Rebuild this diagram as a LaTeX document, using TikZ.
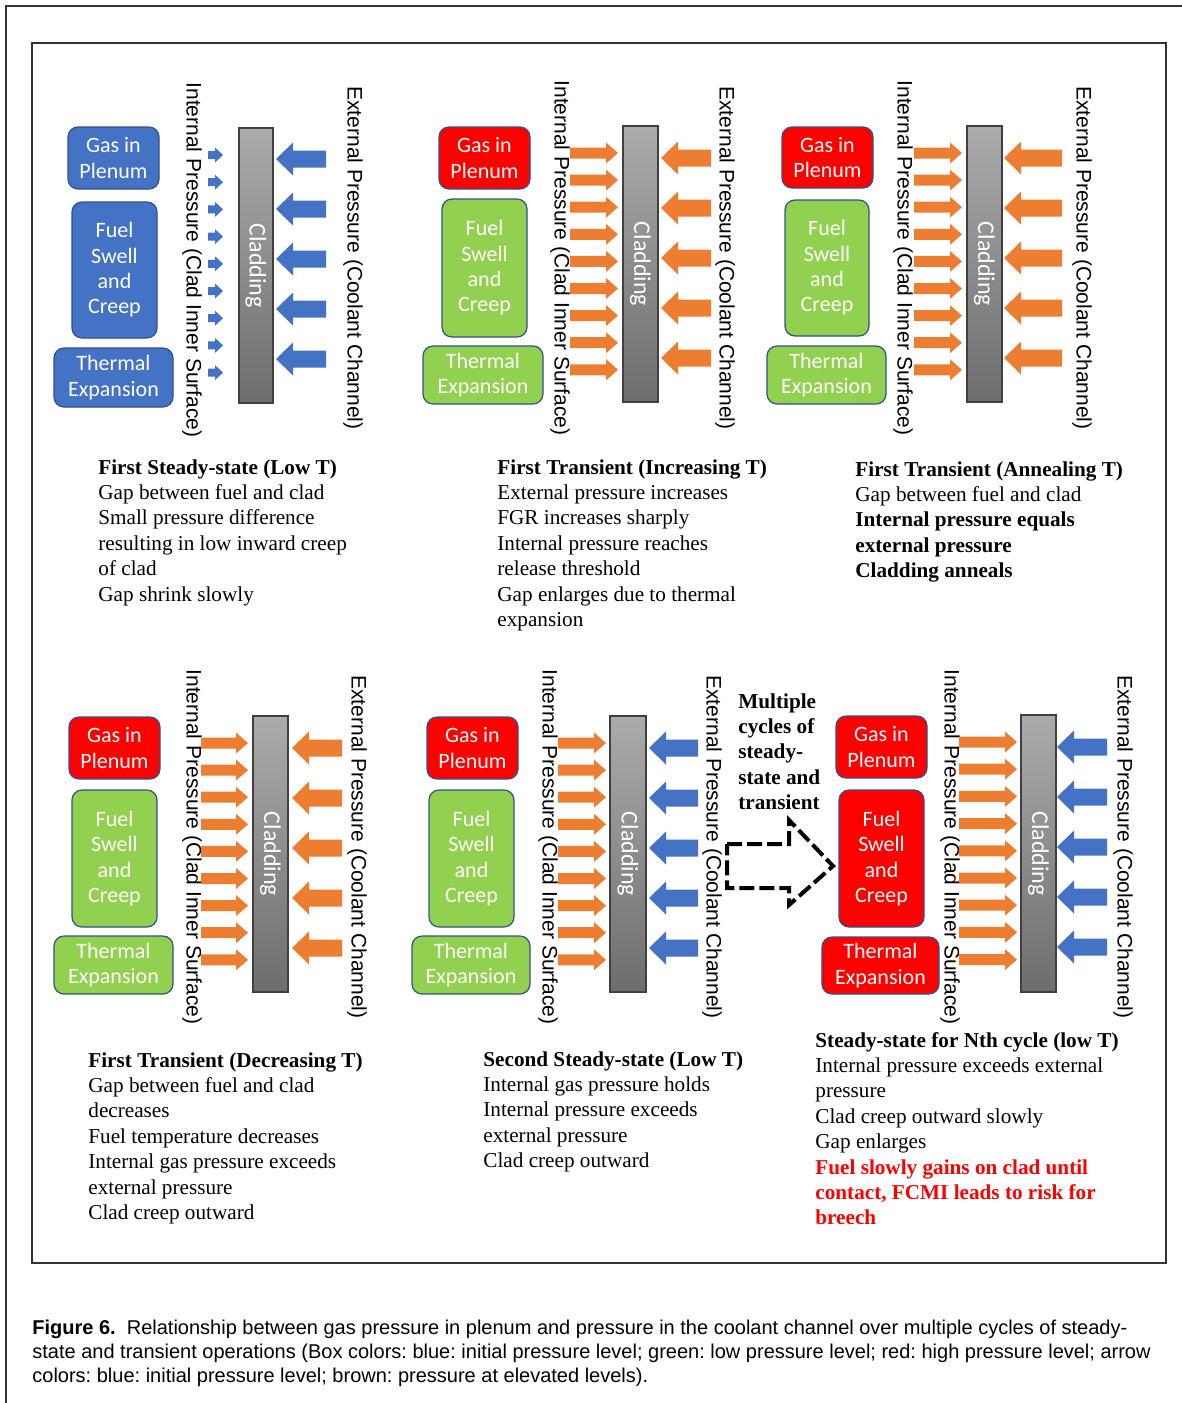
\documentclass[tikz,border=0pt]{standalone}
\usepackage{fontspec}
\setmainfont{Liberation Serif}
\newfontfamily\boxfont{Carlito}
\newfontfamily\labfont{Liberation Sans}
\frenchspacing
\definecolor{cblue}{HTML}{4472C4}
\definecolor{cborder}{HTML}{2F528F}
\definecolor{cgreen}{HTML}{92D050}
\definecolor{cred}{HTML}{FF0000}
\definecolor{corange}{HTML}{ED7D31}
\tikzset{
  fbox/.style={rounded corners=5pt, draw=cborder, line width=0.6pt, text=white,
    font=\boxfont\fontsize{11}{12.7}\selectfont, align=center, inner sep=0pt},
  cladbox/.style={draw=black!75, line width=0.8pt, top color=black!33, bottom color=black!57, inner sep=0pt},
  cladtext/.style={rotate=-90, text=white, font=\boxfont\fontsize{12}{14}\selectfont, inner sep=0pt},
  vlab/.style={rotate=-90, font=\labfont\fontsize{10.5}{12}\selectfont, inner sep=0pt},
  tline/.style={anchor=base west, inner sep=0pt, font=\fontsize{10.6}{12.7}\selectfont},
  capline/.style={anchor=base west, inner sep=0pt, font=\labfont\fontsize{10}{12}\selectfont},
  framebox/.style={draw=black!80, line width=0.8pt},
  dasharrow/.style={draw=black, line width=2pt, dash pattern=on 7.5pt off 2.5pt, line join=miter},
}
% right-pointing arrow: colour, tail x, tip x, centre y, shaft half, head half, head length
\newcommand{\myRarrow}[7]{\fill[#1] (#2,{#4-#5}) -- ({#3-#7},{#4-#5}) -- ({#3-#7},{#4-#6}) -- (#3,#4) -- ({#3-#7},{#4+#6}) -- ({#3-#7},{#4+#5}) -- (#2,{#4+#5}) -- cycle;}
% left-pointing arrow: colour, tail x, tip x, centre y, shaft half, head half, head length
\newcommand{\myLarrow}[7]{\fill[#1] (#2,{#4-#5}) -- ({#3+#7},{#4-#5}) -- ({#3+#7},{#4-#6}) -- (#3,#4) -- ({#3+#7},{#4+#6}) -- ({#3+#7},{#4+#5}) -- (#2,{#4+#5}) -- cycle;}
% box node: name, fill, x1, y1, x2, y2, text
\newcommand{\myBox}[7]{\node[fbox, fill=#2, minimum width={(#5-#3)*0.5pt}, minimum height={(#6-#4)*0.5pt}] (#1) at ({(#3+#5)/2},{(#4+#6)/2}) {#7};}
% cladding: name, x1, y1, x2, y2
\newcommand{\myClad}[5]{\node[cladbox, minimum width={(#4-#2)*0.5pt}, minimum height={(#5-#3)*0.5pt}] (#1) at ({(#2+#4)/2},{(#3+#5)/2}) {};
  \node[cladtext] (#1t) at (#1.center) {Cladding};}
% text block: prefix, x, first centre y, list of lines
\newcommand{\myLines}[4]{\foreach \myline [count=\i] in {#4} {\node[tline] (#1\i) at (#2,{#3+6+25.4*(\i-1)}) {\myline};}}
\begin{document}
\begin{tikzpicture}[x=0.5pt,y=-0.5pt]
\useasboundingbox (0,0) rectangle (1182,1403);
\fill[white] (0,0) rectangle (1182,1403);
% frames
\draw[framebox] (1182,6) -- (6,6) -- (6,1403);
\draw[framebox] (32,43) rectangle (1166,1263);

% ---------- Panel 1 ----------
\myBox{g1}{cblue}{68}{127}{159}{189}{Gas in\\Plenum}
\myBox{f1}{cblue}{72}{202}{157}{338}{Fuel\\Swell\\and\\Creep}
\myBox{t1}{cblue}{54}{348}{173}{407}{Thermal\\Expansion}
\node[vlab] (i1) at (192,260) {Internal Pressure (Clad Inner Surface)};
\foreach \yy in {155,182.2,209.4,236.6,263.8,291,318.2,345.4,372.6} {\myRarrow{cblue}{208}{223}{\yy}{4}{7.5}{8}}
\myClad{c1}{239}{128}{273}{403}
\foreach \yy in {159,209,259,309,359} {\myLarrow{cblue}{326}{276}{\yy}{8.5}{16.5}{17}}
\node[vlab] (e1) at (353,258) {External Pressure (Coolant Channel)};

% ---------- Panel 2 ----------
\myBox{g2}{cred}{439}{127}{530}{189}{Gas in\\Plenum}
\myBox{f2}{cgreen}{442}{199}{527}{337}{Fuel\\Swell\\and\\Creep}
\myBox{t2}{cgreen}{423}{346}{543}{404}{Thermal\\Expansion}
\node[vlab] (i2) at (560,258) {Internal Pressure (Clad Inner Surface)};
\foreach \yy in {153,180.1,207.2,234.3,261.4,288.5,315.6,342.7,369.8} {\myRarrow{corange}{570}{618}{\yy}{5.5}{10.5}{12}}
\myClad{c2}{623}{126}{658}{402}
\foreach \yy in {158,208,258,308,358} {\myLarrow{corange}{711}{661}{\yy}{8.5}{16.5}{17}}
\node[vlab] (e2) at (725,258) {External Pressure (Coolant Channel)};

% ---------- Panel 3 ----------
\myBox{g3}{cred}{782}{127}{873}{188}{Gas in\\Plenum}
\myBox{f3}{cgreen}{785}{200}{869}{336}{Fuel\\Swell\\and\\Creep}
\myBox{t3}{cgreen}{767}{346}{886}{404}{Thermal\\Expansion}
\node[vlab] (i3) at (903,258) {Internal Pressure (Clad Inner Surface)};
\foreach \yy in {153,180.1,207.2,234.3,261.4,288.5,315.6,342.7,369.8} {\myRarrow{corange}{914}{962}{\yy}{5.5}{10.5}{12}}
\myClad{c3}{967}{126}{1002}{402}
\foreach \yy in {158,208,258,308,358} {\myLarrow{corange}{1062}{1004}{\yy}{8.5}{16.5}{17}}
\node[vlab] (e3) at (1082,258) {External Pressure (Coolant Channel)};

% ---------- Panel 4 ----------
\myBox{g4}{cred}{69}{717}{160}{779}{Gas in\\Plenum}
\myBox{f4}{cgreen}{72}{790}{157}{927}{Fuel\\Swell\\and\\Creep}
\myBox{t4}{cgreen}{54}{936}{173}{994}{Thermal\\Expansion}
\node[vlab] (i4) at (192,847) {Internal Pressure (Clad Inner Surface)};
\foreach \yy in {743,770.1,797.2,824.3,851.4,878.5,905.6,932.7,959.8} {\myRarrow{corange}{201}{248}{\yy}{5.5}{10.5}{12}}
\myClad{c4}{253}{716}{288}{992}
\foreach \yy in {748,798,848,898,948} {\myLarrow{corange}{342}{292}{\yy}{8.5}{16.5}{17}}
\node[vlab] (e4) at (357,847) {External Pressure (Coolant Channel)};

% ---------- Panel 5 ----------
\myBox{g5}{cred}{427}{717}{518}{779}{Gas in\\Plenum}
\myBox{f5}{cgreen}{429}{790}{514}{927}{Fuel\\Swell\\and\\Creep}
\myBox{t5}{cgreen}{412}{936}{530}{994}{Thermal\\Expansion}
\node[vlab] (i5) at (548,847) {Internal Pressure (Clad Inner Surface)};
\foreach \yy in {743,770.1,797.2,824.3,851.4,878.5,905.6,932.7,959.8} {\myRarrow{corange}{558}{606}{\yy}{5.5}{10.5}{12}}
\myClad{c5}{610}{716}{646}{992}
\foreach \yy in {748,798,848,898,948} {\myLarrow{cblue}{698}{649}{\yy}{8.5}{16.5}{17}}
\node[vlab] (e5) at (712,847) {External Pressure (Coolant Channel)};

% ---------- Panel 6 ----------
\myBox{g6}{cred}{836}{716}{927}{778}{Gas in\\Plenum}
\myBox{f6}{cred}{839}{790}{924}{927}{Fuel\\Swell\\and\\Creep}
\myBox{t6}{cred}{822}{937}{939}{994}{Thermal\\Expansion}
\node[vlab] (i6) at (950,847) {Internal Pressure (Clad Inner Surface)};
\foreach \yy in {742,769.2,796.4,823.6,850.8,878,905.2,932.4,959.6} {\myRarrow{corange}{959}{1017}{\yy}{5.5}{10.5}{12}}
\myClad{c6}{1021}{715}{1056}{992}
\foreach \yy in {747,797,847,897,947} {\myLarrow{cblue}{1107}{1057}{\yy}{8.5}{16.5}{17}}
\node[vlab] (e6) at (1123,847) {External Pressure (Coolant Channel)};

% dashed transition arrow
\draw[dasharrow] (727,844) -- (789,844) -- (789,820) -- (833,866) -- (789,905) -- (789,888) -- (727,888) -- cycle;
\myLines{mc}{738}{702}{{\textbf{Multiple}},{\textbf{cycles of}},{\textbf{steady-}},{\textbf{state and}},{\textbf{transient}}}

% ---------- Text blocks ----------
\myLines{ta}{98}{468}{{\textbf{First Steady-state (Low T)}},Gap between fuel and clad,Small pressure difference,resulting in low inward creep,of clad,Gap shrink slowly}
\myLines{tb}{497}{468}{{\textbf{First Transient (Increasing T)}},External pressure increases,FGR increases sharply,Internal pressure reaches,release threshold,Gap enlarges due to thermal,expansion}
\myLines{tc}{855}{470}{{\textbf{First Transient (Annealing T)}},Gap between fuel and clad,{\textbf{Internal pressure equals}},{\textbf{external pressure}},{\textbf{Cladding anneals}}}
\myLines{td}{88}{1061}{{\textbf{First Transient (Decreasing T)}},Gap between fuel and clad,decreases,Fuel temperature decreases,Internal gas pressure exceeds,external pressure,Clad creep outward}
\myLines{te}{483}{1060}{{\textbf{Second Steady-state (Low T)}},Internal gas pressure holds,Internal pressure exceeds,external pressure,Clad creep outward}
\myLines{tf}{815}{1041}{{\textbf{Steady-state for Nth cycle (low T)}},Internal pressure exceeds external,pressure,Clad creep outward slowly,Gap enlarges,{\textcolor{cred}{\textbf{Fuel slowly gains on clad until}}},{\textcolor{cred}{\textbf{contact, FCMI leads to risk for}}},{\textcolor{cred}{\textbf{breech}}}}

% ---------- Caption ----------
\node[capline] (cap1) at (32,1334) {\textbf{Figure 6.}\ \ Relationship between gas pressure in plenum and pressure in the coolant channel over multiple cycles of steady-};
\node[capline] (cap2) at (32,1358) {state and transient operations (Box colors: blue: initial pressure level; green: low pressure level; red: high pressure level; arrow};
\node[capline] (cap3) at (32,1382) {colors: blue: initial pressure level; brown: pressure at elevated levels).};
\end{tikzpicture}
\end{document}
